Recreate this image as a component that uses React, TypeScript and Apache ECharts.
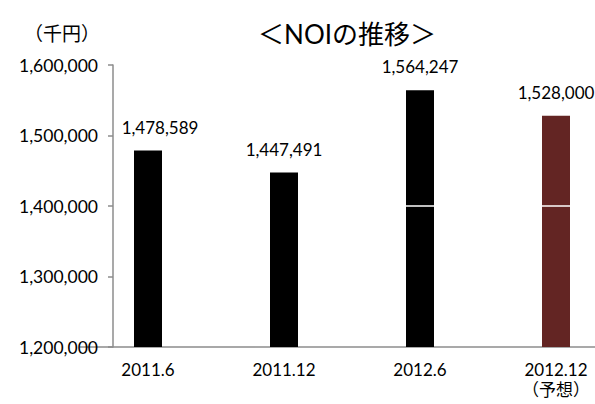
import React, { useEffect, useRef } from "react";
import * as echarts from "echarts";

const categories = ["2011.6", "2011.12", "2012.6", "2012.12\n（予想）"];
const values = [1478589, 1447491, 1564247, 1528000];
const barColors = ["#000000", "#000000", "#000000", "#632523"];
const labelShiftX = [12, 0, 0, 0];
const whiteMarks: [number, number][] = [[2, 1400000], [3, 1400000]];
const yMin = 1200000;
const yMax = 1600000;
const yStep = 100000;

const FONT = "Lato, 'Noto Sans CJK JP', sans-serif";

export default function App() {
  const ref = useRef<HTMLDivElement>(null);
  useEffect(() => {
    if (!ref.current) return;
    const chart = echarts.init(ref.current, undefined, { renderer: "svg" });
    chart.setOption({
      animation: false,
      backgroundColor: "#ffffff",
      title: [
        {
          text: "＜NOIの推移＞",
          left: 342,
          textAlign: "center",
          top: 16,
          textStyle: { fontFamily: FONT, fontSize: 26, fontWeight: "normal", color: "#000" },
        },
        {
          text: "（千円）",
          left: 19,
          top: 19,
          textStyle: { fontFamily: FONT, fontSize: 19, fontWeight: "normal", color: "#000" },
        },
      ],
      grid: { left: 80, top: 65, width: 544, height: 282, containLabel: false },
      xAxis: {
        type: "category",
        data: categories,
        axisLine: { lineStyle: { color: "#8c8c8c", width: 1.5 } },
        axisTick: { show: false },
        axisLabel: {
          fontFamily: FONT,
          fontSize: 17,
          color: "#000",
          margin: 12,
          lineHeight: 20,
        },
      },
      yAxis: {
        type: "value",
        min: yMin,
        max: yMax,
        interval: yStep,
        offset: -33,
        splitLine: { show: false },
        axisLine: { show: true, lineStyle: { color: "#8c8c8c", width: 1.5 } },
        axisTick: { show: true, length: 5, lineStyle: { color: "#8c8c8c", width: 1.5 } },
        axisLabel: {
          fontFamily: FONT,
          fontSize: 17.5,
          color: "#000",
          margin: 15,
          formatter: (v: number) => v.toLocaleString("en-US"),
        },
      },
      series: [
        {
          type: "bar",
          barWidth: 28,
          data: values.map((v, i) => ({
            value: v,
            itemStyle: { color: barColors[i] },
            label: { offset: [labelShiftX[i], 0] },
          })),
          label: {
            show: true,
            position: "top",
            distance: 15,
            fontFamily: FONT,
            fontSize: 17,
            color: "#000",
            formatter: (p: any) => Number(p.value).toLocaleString("en-US"),
          },
        },
        {
          type: "custom",
          data: whiteMarks,
          z: 5,
          renderItem: (params: any, api: any) => {
            const pt = api.coord([api.value(0), api.value(1)]);
            const w = 28;
            return {
              type: "line",
              shape: { x1: pt[0] - w / 2, y1: pt[1], x2: pt[0] + w / 2, y2: pt[1] },
              style: { stroke: "#ffffff", lineWidth: 1.5 },
            };
          },
        },
      ],
    });
    return () => chart.dispose();
  }, []);
  return (
    <div
      style={{
        position: "absolute",
        left: 0,
        top: 0,
        width: 595,
        height: 404,
        overflow: "hidden",
        background: "#fff",
      }}
    >
      <div ref={ref} style={{ width: 624, height: 404 }} />
    </div>
  );
}
